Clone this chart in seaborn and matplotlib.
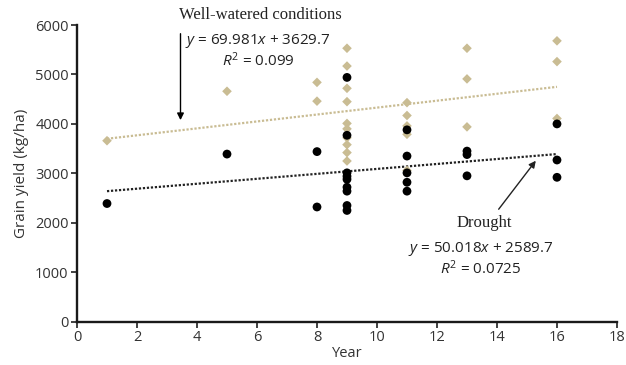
import matplotlib
matplotlib.use("Agg")
import matplotlib.pyplot as plt
import seaborn as sns
import numpy as np
import pandas as pd

# Grain yield (kg/ha) per year of release
ww_year = [1, 5, 8, 8,
           9, 9, 9, 9, 9, 9, 9, 9, 9, 9,
           11, 11, 11, 11, 11,
           13, 13, 13,
           16, 16, 16]
ww_yield = [3660, 4660, 4840, 4460,
            5530, 5170, 4720, 4450, 4010, 3900, 3720, 3580, 3420, 3250,
            4430, 4170, 3960, 3790, 3060,
            5530, 4910, 3940,
            5680, 5260, 4110]

dr_year = [1, 5, 8, 8,
           9, 9, 9, 9, 9, 9, 9, 9, 9,
           11, 11, 11, 11, 11,
           13, 13, 13,
           16, 16, 16]
dr_yield = [2390, 3390, 3440, 2320,
            4940, 3770, 3010, 2940, 2880, 2720, 2640, 2350, 2250,
            3880, 3350, 3010, 2820, 2640,
            3450, 3380, 2950,
            4000, 3270, 2920]

# Linear trend equations printed on the chart
ww_slope, ww_intercept, ww_r2 = 69.981, 3629.7, 0.099
dr_slope, dr_intercept, dr_r2 = 50.018, 2589.7, 0.0725

x_ticks = list(range(0, 19, 2))
y_ticks = list(range(0, 6001, 1000))

ww_color = "#c9bc93"

sns.set_theme(style="ticks")
plt.rcParams['font.family'] = ['Open Sans', 'DejaVu Sans']
plt.rcParams['mathtext.fontset'] = 'custom'
plt.rcParams['mathtext.rm'] = 'Open Sans'
plt.rcParams['mathtext.it'] = 'Open Sans:italic'

fig = plt.figure(figsize=(6.26, 3.65), dpi=100)
ax = fig.add_axes([0.123, 0.1186, 0.8626, 0.8129])

ww = pd.DataFrame({"Year": ww_year, "Yield": ww_yield})
dr = pd.DataFrame({"Year": dr_year, "Yield": dr_yield})

sns.scatterplot(data=ww, x="Year", y="Yield", marker="D", s=24, color=ww_color,
                edgecolor="none", ax=ax, zorder=3)
sns.scatterplot(data=dr, x="Year", y="Yield", marker="o", s=40, color="black",
                edgecolor="none", ax=ax, zorder=4)

# trend lines over the range of the data
for df, slope, icpt, col in [(ww, ww_slope, ww_intercept, ww_color),
                             (dr, dr_slope, dr_intercept, "#222222")]:
    xs = np.array([df["Year"].min(), df["Year"].max()])
    ax.plot(xs, slope * xs + icpt, linestyle=(0, (1, 0.8)), color=col,
            linewidth=1.6, zorder=2)

ax.set_xlim(0, 18)
ax.set_ylim(0, 6000)
ax.set_xticks(x_ticks)
ax.set_yticks(y_ticks)
ax.tick_params(axis="both", direction="out", length=4, width=1.3,
               labelsize=10.5, colors="#333333", pad=2)
for side in ["top", "right"]:
    ax.spines[side].set_visible(False)
for side in ["left", "bottom"]:
    ax.spines[side].set_linewidth(1.7)
    ax.spines[side].set_color("#1a1a1a")

ax.set_xlabel("Year", fontsize=10.5, color="#333333", labelpad=1)
ax.set_ylabel("Grain yield (kg/ha)", fontsize=11, color="#333333", labelpad=4)

serif = ['Liberation Serif', 'DejaVu Serif']

# Well-watered annotation
fig.text(260 / 626, 1 - 15 / 365, "Well-watered conditions", family=serif,
         fontsize=12, ha="center", va="center", color="#222222")
fig.text(258 / 626, 1 - 41 / 365,
         "$\\it{y}$ = %.3f$\\it{x}$ + %.1f" % (ww_slope, ww_intercept),
         fontsize=11, ha="center", va="center", color="#222222")
fig.text(258 / 626, 1 - 61 / 365, "$\\it{R}^2$ = %s" % ww_r2,
         fontsize=11, ha="center", va="center", color="#222222")
ax.annotate("", xy=(3.45, 4020), xytext=(3.45, 5880),
            arrowprops=dict(arrowstyle="-|>", color="black", lw=1.0,
                            mutation_scale=10))

# Drought annotation
fig.text(484 / 626, 1 - 223 / 365, "Drought", family=serif,
         fontsize=12, ha="center", va="center", color="#222222")
fig.text(481 / 626, 1 - 249 / 365,
         "$\\it{y}$ = %.3f$\\it{x}$ + %.1f" % (dr_slope, dr_intercept),
         fontsize=11, ha="center", va="center", color="#222222")
fig.text(481 / 626, 1 - 269 / 365, "$\\it{R}^2$ = %s" % dr_r2,
         fontsize=11, ha="center", va="center", color="#222222")
ax.annotate("", xy=(15.35, 3300), xytext=(14.0, 2230),
            arrowprops=dict(arrowstyle="-|>", color="#222222", lw=1.0,
                            mutation_scale=10))

fig.savefig("out.png", dpi=100)
